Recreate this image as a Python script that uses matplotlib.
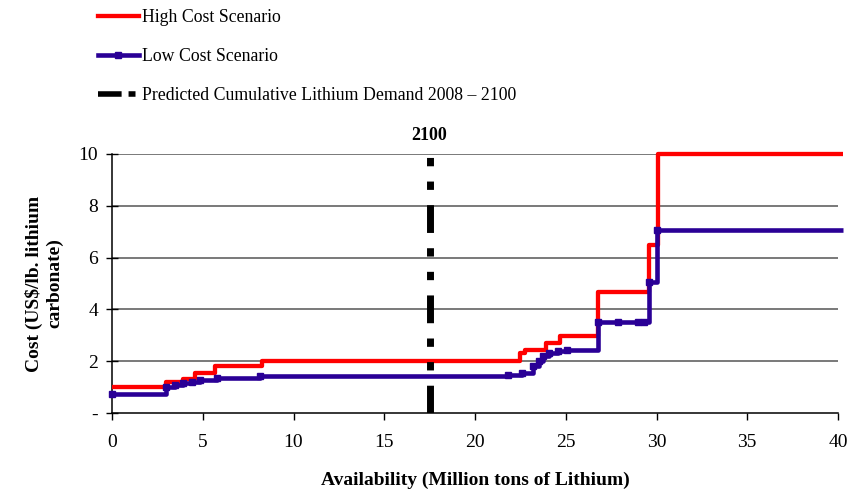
import matplotlib
matplotlib.use("Agg")
from matplotlib import pyplot as plt
from matplotlib.lines import Line2D

plt.rcParams["font.family"] = ["Liberation Serif", "DejaVu Serif"]
plt.rcParams["lines.scale_dashes"] = False

# step curves: availability (Mt Li) where a new cost level starts, cost (US$/lb Li2CO3)
high_x = [0, 3.0, 3.9, 4.6, 5.7, 8.25, 22.5, 22.75, 23.9, 24.7, 26.8, 29.6, 30.1, 40.3]
high_y = [1.0, 1.2, 1.3, 1.53, 1.8, 2.0, 2.3, 2.45, 2.7, 2.97, 4.68, 6.5, 10.0, 10.0]

low_x = [0, 3.0, 3.47, 3.9, 4.4, 4.85, 5.76, 8.15, 21.8, 22.6, 23.2, 23.5, 23.76,
         24.1, 24.6, 25.05, 26.8, 27.9, 29.0, 29.3, 29.6, 30.05, 40.3]
low_y = [0.72, 1.0, 1.08, 1.17, 1.21, 1.27, 1.34, 1.43, 1.47, 1.53, 1.82, 2.0, 2.2,
         2.3, 2.39, 2.45, 3.52, 3.52, 3.5, 3.5, 5.07, 7.05, 7.05]

demand_2100 = 17.5

x_ticks = [0, 5, 10, 15, 20, 25, 30, 35, 40]
y_ticks = [0, 2, 4, 6, 8, 10]
y_labels = ["-", "2", "4", "6", "8", "10"]

red = "#ff0000"
blue = "#2a0096"

fig = plt.figure(figsize=(8.6, 4.9), dpi=100)
ax = fig.add_axes([112 / 860, 77 / 490, 726 / 860, 259 / 490])

for y in y_ticks[1:]:
    ax.axhline(y, color="#555555", lw=1.1, zorder=1)

ax.step(high_x, high_y, where="post", color=red, lw=3.1, zorder=3, clip_on=False,
        solid_capstyle="butt")
ax.step(low_x, low_y, where="post", color=blue, lw=3.3, marker="s", ms=4.5,
        markevery=list(range(len(low_x) - 1)),
        zorder=4, clip_on=False, solid_capstyle="butt")

dash = (0, (20, 11, 6, 11, 6, 11))
ax.plot([demand_2100, demand_2100], [0, 10], color="black", lw=5, linestyle=dash,
        zorder=5, solid_capstyle="butt", dash_capstyle="butt")
ax.text(demand_2100, 10.4, "2100", ha="center", va="bottom", fontsize=13,
        fontweight="bold")

ax.set_xlim(0, 40)
ax.set_ylim(0, 10)
ax.set_xticks(x_ticks)
ax.set_yticks(y_ticks)
ax.set_yticklabels(y_labels)
ax.tick_params(axis="x", direction="out", length=5, width=1, labelsize=14, pad=10)
ax.tick_params(axis="y", direction="inout", length=8, width=1, labelsize=14, pad=6)

for s in ["top", "right"]:
    ax.spines[s].set_visible(False)
for s in ["left", "bottom"]:
    ax.spines[s].set_linewidth(1.1)

ax.set_xlabel("Availability (Million tons of Lithium)", fontsize=14,
              fontweight="bold", labelpad=15)
ax.set_ylabel("Cost (US\\$/lb. lithium\ncarbonate)", fontsize=14,
              fontweight="bold", labelpad=11, linespacing=1.25)

handles = [
    Line2D([], [], color=red, lw=3.1),
    Line2D([], [], color=blue, lw=3.3, marker="s", ms=4.5),
    Line2D([], [], color="black", lw=4, linestyle=(0, (17, 5, 5, 10))),
]
labels = ["High Cost Scenario", "Low Cost Scenario",
          "Predicted Cumulative Lithium Demand 2008 \u2013 2100"]
fig.legend(handles, labels, loc="upper left", bbox_to_anchor=(98 / 860, 1 - 9 / 490),
           frameon=False, fontsize=12.8, handlelength=2.3, handletextpad=0.15,
           labelspacing=1.25, borderpad=0, borderaxespad=0, numpoints=1)

fig.savefig("out.png", dpi=100)
